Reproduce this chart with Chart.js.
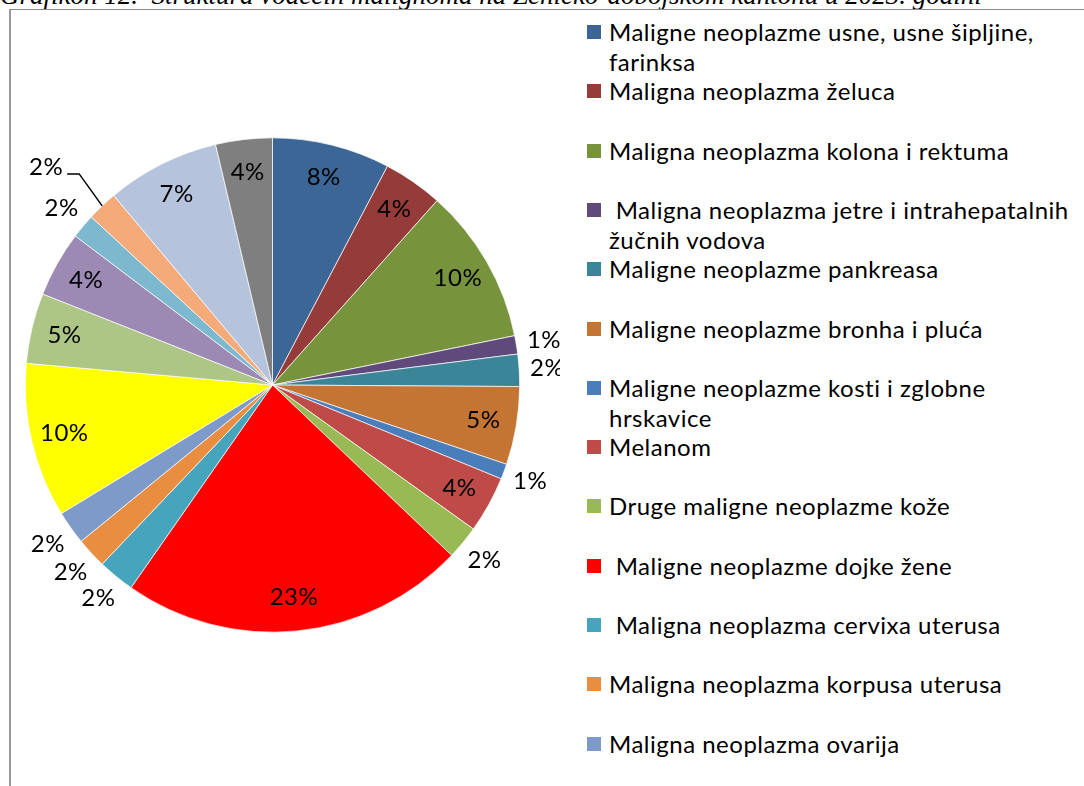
<!DOCTYPE html>
<html>
<head>
<meta charset="utf-8">
<script src="https://cdn.jsdelivr.net/npm/chart.js@4.4.1/dist/chart.umd.min.js"></script>
<style>
  html, body { margin: 0; padding: 0; background: #fff; overflow: hidden; }
  body { width: 1084px; height: 786px; position: relative; font-family: Lato, sans-serif; }
  #title { position: absolute; left: 0; top: -20px; white-space: pre; font: italic 27px "Liberation Serif", serif; color: #000; }
  #frame { position: absolute; left: 9px; top: 9px; width: 1100px; height: 800px; border-left: 2px solid #9a9a9a; border-top: 1px solid #8a8a8a; }
  #pieBox { position: absolute; left: 0; top: 0; width: 560px; height: 786px; }
  #legend { position: absolute; left: 587px; top: 0; width: 497px; height: 786px; }
  .item { position: absolute; left: 0; font-size: 24px; letter-spacing: 0.5px; line-height: 30px; color: #000; white-space: pre; }
  .item i { position: absolute; left: 0; top: 8px; width: 14px; height: 14px; }
  .item span { display: block; margin-left: 22px; }
</style>
</head>
<body>
<div id="title">Grafikon 12.  Struktura vodećih malignoma na Zeničko-dobojskom kantonu u 2023. godini</div>
<div id="frame"></div>
<div id="pieBox"><canvas id="pieChart"></canvas></div>
<div id="legend"></div>
<script>
// Struktura vodecih malignoma, udio u %
let categories = [
    ["Maligne neoplazme usne, usne šipljine,", "farinksa"],
    "Maligna neoplazma želuca",
    "Maligna neoplazma kolona i rektuma",
    [" Maligna neoplazma jetre i intrahepatalnih", "žučnih vodova"],
    "Maligne neoplazme pankreasa",
    "Maligne neoplazme bronha i pluća",
    ["Maligne neoplazme kosti i zglobne", "hrskavice"],
    "Melanom",
    "Druge maligne neoplazme kože",
    " Maligne neoplazme dojke žene",
    " Maligna neoplazma cervixa uterusa",
    "Maligna neoplazma korpusa uterusa",
    "Maligna neoplazma ovarija",
    "Maligna neoplazma prostate",
    "Maligna neoplazma bubrega",
    "Maligna neoplazma mokraćnog mjehura",
    "Maligna neoplazma mozga",
    "Maligna neoplazma štitne žlijezde",
    "Limfomi i leukemije",
    "Ostale maligne neoplazme"
];
let shares = [7.7, 3.9, 10.2, 1.2, 2.1, 5.1, 1.0, 3.7, 2.2, 22.6, 2.4, 2.0, 2.2, 10.1, 4.6, 4.3, 1.6, 2.0, 7.4, 3.7];
let sliceColors = ['#3c6696', '#953b39', '#77933c', '#604a7b', '#3a8598', '#c47534', '#4a7ebb', '#be4b48',
    '#98b954', '#ff0000', '#46a5bd', '#e98d41', '#7e9ac8', '#ffff00', '#adc585', '#9c89b4',
    '#7cb9cf', '#f5aa7a', '#b5c3dd', '#7f7f7f'];
let legendShown = 13; // only the first 13 entries fit in the legend

let pctLabels = {
    id: 'pctLabels',
    afterDatasetsDraw(chart) {
        let ctx = chart.ctx;
        let total = shares.reduce((a, b) => a + b, 0);
        ctx.save();
        ctx.font = '24px Lato';
        ctx.letterSpacing = '0.5px';
        ctx.fillStyle = '#000';
        ctx.strokeStyle = '#000';
        ctx.lineWidth = 1.5;
        ctx.textAlign = 'center';
        ctx.textBaseline = 'middle';
        chart.getDatasetMeta(0).data.forEach((arc, i) => {
            let p = arc.getProps(['x', 'y', 'startAngle', 'endAngle', 'outerRadius'], true);
            let mid = (p.startAngle + p.endAngle) / 2;
            let pct = shares[i] / total * 100;
            let txt = Math.round(pct) + '%';
            if (i === 17) {
                // label pulled out with a leader line
                let ex = p.x + Math.cos(mid) * p.outerRadius, ey = p.y + Math.sin(mid) * p.outerRadius;
                ctx.beginPath();
                ctx.moveTo(ex, ey);
                ctx.lineTo(ex - 23, ey - 32);
                ctx.lineTo(ex - 35, ey - 32);
                ctx.stroke();
                ctx.fillText(txt, ex - 56, ey - 39);
                return;
            }
            let r = pct >= 3 ? p.outerRadius * 0.865 : p.outerRadius + 28;
            ctx.fillText(txt, p.x + Math.cos(mid) * r, p.y + Math.sin(mid) * r);
        });
        ctx.restore();
    }
};

let ctxP = document.getElementById('pieChart').getContext('2d');
let pieChart = new Chart(ctxP, {
    type: 'pie',
    data: {
        labels: categories,
        datasets: [{
            data: shares,
            backgroundColor: sliceColors,
            borderColor: '#ffffff',
            borderWidth: 0.7
        }]
    },
    options: {
        responsive: true,
        maintainAspectRatio: false,
        animation: false,
        layout: { padding: { left: 25, right: 40, top: 137, bottom: 153 } },
        plugins: {
            legend: { display: false },
            tooltip: { enabled: false }
        }
    },
    plugins: [pctLabels]
});

// legend on the right, one row every 59.3px
let legendEl = document.getElementById('legend');
for (let i = 0; i < legendShown; i++) {
    let lines = Array.isArray(categories[i]) ? categories[i] : [categories[i]];
    let div = document.createElement('div');
    div.className = 'item';
    div.style.top = (32 + i * 59.3 - 15) + 'px';
    div.innerHTML = '<i style="background:' + sliceColors[i] + '"></i><span>' + lines.join('\n') + '</span>';
    legendEl.appendChild(div);
}
</script>
</body>
</html>
